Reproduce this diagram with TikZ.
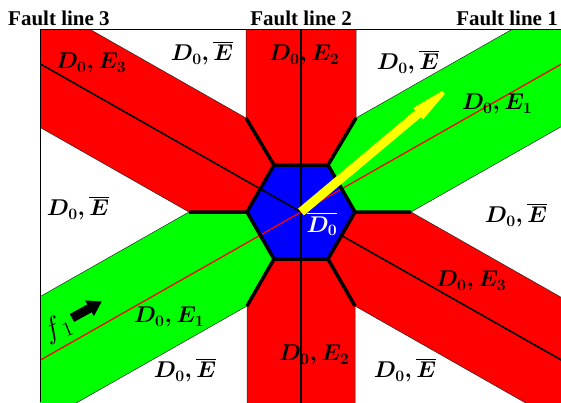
\documentclass[tikz,border=0pt]{standalone}
\usepackage{amsmath}
\usepackage{fontspec}
\newfontfamily\tnr{Liberation Serif}
\usetikzlibrary{calc}
\definecolor{bred}{RGB}{255,0,0}
\definecolor{bgreen}{RGB}{0,255,0}
\definecolor{bblue}{RGB}{0,0,255}
\definecolor{byellow}{RGB}{255,255,0}
\begin{document}
\begin{tikzpicture}[x=1pt,y=-1pt,
  redband/.style={fill=bred, draw=black!85, line width=0.5pt},
  greenband/.style={fill=bgreen, draw=black!85, line width=0.5pt},
  sepline/.style={line width=3.5pt, line join=miter},
  fault/.style={line width=1.6pt},
  lab/.style={inner sep=0pt, font=\fontsize{20.74}{25}\selectfont, scale=1.1, transform shape},
  ttl/.style={inner sep=0pt, font=\tnr\bfseries\fontsize{21}{25}\selectfont},
  ]
\useasboundingbox (0,0) rectangle (561,402);
% key points
\coordinate (C) at (301,212);
\coordinate (H0) at (355,212);
\coordinate (H1) at (328,165);
\coordinate (H2) at (274,165);
\coordinate (H3) at (247,212);
\coordinate (H4) at (274,259);
\coordinate (H5) at (328,259);
\coordinate (P0) at (411,212);
\coordinate (P1) at (356,118);
\coordinate (P2) at (246,118);
\coordinate (P3) at (189,212);
\coordinate (P4) at (247,306);
\coordinate (P5) at (355,306);
\coordinate (FTR) at (561,29.5);
\coordinate (FTL) at (40,29.5);
\coordinate (FBL) at (40,402);
\coordinate (FBR) at (561,402);
\begin{scope}
\clip (FTL) rectangle (FBR);
% vertical band
\draw[redband] (P2) -- ($(P2)+(0,-300)$) -- ($(P1)+(0,-300)$) -- (P1) -- (H1) -- (H2) -- cycle;
\draw[redband] (P4) -- ($(P4)+(0,300)$) -- ($(P5)+(0,300)$) -- (P5) -- (H5) -- (H4) -- cycle;
% fault line 3 band
\draw[redband] (P2) -- ($(P2)+(-347.8,-197.6)$) -- ($(P3)+(-347.8,-197.6)$) -- (P3) -- (H3) -- (H2) -- cycle;
\draw[redband] (P5) -- ($(P5)+(347.8,197.6)$) -- ($(P0)+(347.8,197.6)$) -- (P0) -- (H0) -- (H5) -- cycle;
% fault line 1 band
\draw[greenband] (P1) -- ($(P1)+(347.8,-197.6)$) -- ($(P0)+(347.8,-197.6)$) -- (P0) -- (H0) -- (H1) -- cycle;
\draw[greenband] (P3) -- ($(P3)+(-347.8,197.6)$) -- ($(P4)+(-347.8,197.6)$) -- (P4) -- (H4) -- (H3) -- cycle;
% hexagon
\fill[bblue] (H0) -- (H1) -- (H2) -- (H3) -- (H4) -- (H5) -- cycle;
% fault lines
\coordinate (V1) at (301,0);
\coordinate (V2) at (301,410);
\draw[fault] (V1) -- (V2);
\coordinate (A1) at ($(C)+(-347.8,197.6)$);
\coordinate (A2) at ($(C)+(347.8,-197.6)$);
\draw[bred, line width=1.3pt] (A1) -- (A2);
\coordinate (B1) at ($(C)+(-347.8,-197.6)$);
\coordinate (B2) at ($(C)+(347.8,197.6)$);
\coordinate (BM) at ($(H0)!0.5!(H5)$);
\draw[fault] (B1) -- (C);
\draw[fault] (BM) -- (B2);
% separators and hexagon border
\draw[sepline] (H0) -- (H1) -- (H2) -- (H3) -- (H4) -- (H5) -- cycle;
\draw[sepline] (H0) -- (P0) (H1) -- (P1) (H2) -- (P2) (H3) -- (P3) (H4) -- (P4) (H5) -- (P5);
% yellow arrow
\begin{scope}[shift={(C)}, rotate=40]
\fill[byellow] (0,-4.5) -- (153,-4.5) -- (153,-7.5) -- (186,-2) -- (186,2) -- (153,7.5) -- (153,4.5) -- (0,4.5) -- cycle;
\end{scope}
% black arrow
\begin{scope}[shift={(72,318)}, rotate=29]
\fill[black] (0,-4.5) -- (20,-4.5) -- (20,-9) -- (34,0) -- (20,9) -- (20,4.5) -- (0,4.5) -- cycle;
\end{scope}
\end{scope}
% frame
\draw[line width=1pt] (FTR) -- (FTL) -- (FBL);
% labels
\node[lab] (l1) at (91,63) {$\boldsymbol{D_0, E_3}$};
\node[lab] (l2) at (202,53) {$\boldsymbol{D_0, \overline{E}}$};
\node[lab] (l3) at (304,55) {$\boldsymbol{D_0, E_2}$};
\node[lab] (l4) at (408,62) {$\boldsymbol{D_0, \overline{E}}$};
\node[lab] (l5) at (497,104) {$\boldsymbol{D_0, E_1}$};
\node[lab] (l6) at (78,208) {$\boldsymbol{D_0, \overline{E}}$};
\node[lab] (l7) at (516,215) {$\boldsymbol{D_0, \overline{E}}$};
\node[lab, text=white] (l8) at (322,224) {$\overline{\boldsymbol{D_0}}$};
\node[lab] (l9) at (471,281) {$\boldsymbol{D_0, E_3}$};
\node[lab] (l10) at (169,317) {$\boldsymbol{D_0, E_1}$};
\node[lab] (l11) at (185,370) {$\boldsymbol{D_0, \overline{E}}$};
\node[lab] (l12) at (314,355) {$\boldsymbol{D_0, E_2}$};
\node[lab] (l13) at (405,370) {$\boldsymbol{D_0, \overline{E}}$};
\node[lab, scale=1.3, rotate=22] (f1) at (58,328) {$f_{\,1}$};
% titles
\node[ttl, anchor=base west] (t3) at (8,25) {Fault line 3};
\node[ttl, anchor=base] (t2) at (301,25) {Fault line 2};
\node[ttl, anchor=base east] (t1) at (558,25) {Fault line 1};
\end{tikzpicture}
\end{document}
